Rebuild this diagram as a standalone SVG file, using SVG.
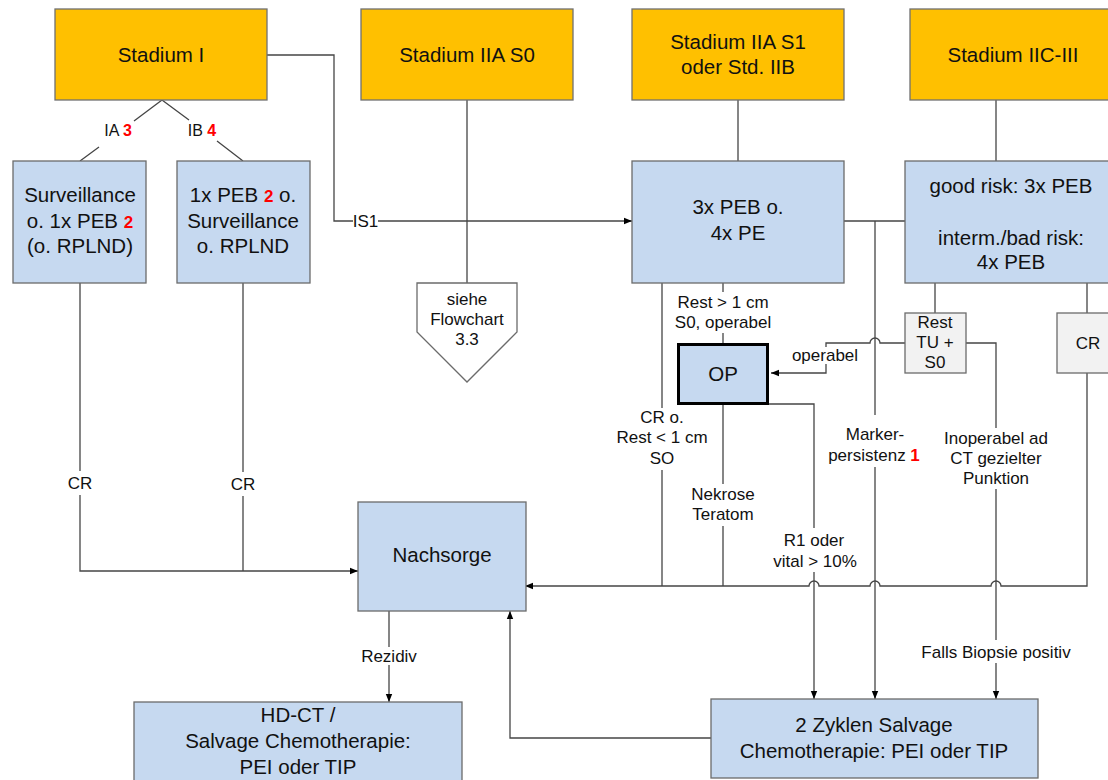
<svg xmlns="http://www.w3.org/2000/svg" width="1108" height="780" viewBox="0 0 1108 780">
<defs>
<marker id="ah" viewBox="0 0 10 10" refX="10" refY="5" markerWidth="8" markerHeight="8" markerUnits="userSpaceOnUse" orient="auto">
<path d="M0,1 L10,5 L0,9 z" fill="#000"/>
</marker>
<style>
.orange{fill:#ffc000;stroke:#707070;stroke-width:1.3}
.blue{fill:#c6d9f0;stroke:#6b6b6b;stroke-width:1.3}
.gray{fill:#f2f2f2;stroke:#6b6b6b;stroke-width:1.3}
.op{fill:#c6d9f0;stroke:#000;stroke-width:3}
.pent{fill:#fff;stroke:#6b6b6b;stroke-width:1.3}
.c{fill:none;stroke:#454545;stroke-width:1.3}
.a{marker-end:url(#ah)}
.bg{fill:#fff}
text{font-family:"Liberation Sans",Arial,sans-serif;fill:#111;text-anchor:middle}
.n{font-size:20.5px}
.s{font-size:17px}
.x{font-size:16px}
.r{fill:#ff0000;font-weight:bold}
.rs{font-size:17px}
</style>
</defs>
<rect width="1108" height="780" fill="#fff"/>

<g id="connectors">
<path class="c" d="M162,100 L134,121 M99,147 L80,161"/>
<path class="c" d="M162,100 L189,120 M217,141 L243,161"/>
<path class="c a" d="M267,55 H334 V221 H632"/>
<path class="c" d="M467,100 V283"/>
<path class="c a" d="M80,283 V571 H358"/>
<path class="c" d="M243,283 V571"/>
<path class="c" d="M738,100 V161"/>
<path class="c" d="M996,100 V161"/>
<path class="c" d="M844,221 H905"/>
<path class="c a" d="M875,221 V699"/>
<path class="c" d="M723,283 V343"/>
<path class="c" d="M662,283 V586"/>
<path class="c" d="M723,405 V586"/>
<path class="c a" d="M769,404 H814 V699"/>
<path class="c" d="M935,283 V313"/>
<path class="c" d="M1087,283 V313"/>
<path class="c a" d="M905,343 H880 a5,5 0 0 0 -10,0 H826 V373 H771"/>
<path class="c a" d="M966,343 H996 V699"/>
<path class="c a" d="M1087,373 V586 H1001 a5,5 0 0 0 -10,0 H880 a5,5 0 0 0 -10,0 H819 a5,5 0 0 0 -10,0 H525"/>
<path class="c a" d="M389,611 V702"/>
<path class="c a" d="M711,738 H510 V611"/>

<rect class="bg" x="353" y="212" width="25" height="18"/>
<rect class="bg" x="66" y="471" width="28" height="24"/>
<rect class="bg" x="229" y="472" width="28" height="24"/>
<rect class="bg" x="675" y="292" width="97" height="41"/>
<rect class="bg" x="615" y="408" width="94" height="62"/>
<rect class="bg" x="688" y="484" width="70" height="42"/>
<rect class="bg" x="772" y="528" width="87" height="44"/>
<rect class="bg" x="827" y="415" width="98" height="52"/>
<rect class="bg" x="942" y="428" width="108" height="61"/>
<rect class="bg" x="920" y="640" width="153" height="23"/>
<rect class="bg" x="361" y="647" width="56" height="18"/>
<rect class="bg" x="792" y="347" width="67" height="17"/>

<text class="x" x="118" y="136">IA <tspan class="r">3</tspan></text>
<text class="x" x="202" y="136">IB <tspan class="r">4</tspan></text>
<text class="s" x="365.5" y="227">IS1</text>
<text class="s" x="80" y="489">CR</text>
<text class="s" x="243" y="490">CR</text>
<text class="s" x="723" y="308">Rest &gt; 1 cm</text>
<text class="s" x="723" y="328">S0, operabel</text>
<text class="s" x="825" y="361">operabel</text>
<text class="s" x="662" y="423">CR o.</text>
<text class="s" x="662" y="443">Rest &lt; 1 cm</text>
<text class="s" x="662" y="464">SO</text>
<text class="s" x="723" y="500">Nekrose</text>
<text class="s" x="723" y="520">Teratom</text>
<text class="s" x="814" y="546">R1 oder</text>
<text class="s" x="815" y="567">vital &gt; 10%</text>
<text class="s" x="875" y="440">Marker-</text>
<text class="s" x="874" y="461">persistenz <tspan class="r">1</tspan></text>
<text class="s" x="996" y="444">Inoperabel ad</text>
<text class="s" x="996" y="464">CT gezielter</text>
<text class="s" x="996" y="484">Punktion</text>
<text class="s" x="996" y="658">Falls Biopsie positiv</text>
<text class="s" x="389" y="662">Rezidiv</text>
</g>

<g id="stadium-i">
<rect class="orange" x="55" y="9" width="212" height="91"/>
<text class="n" x="161" y="62">Stadium I</text>
</g>
<g id="stadium-iia-s0">
<rect class="orange" x="361" y="9" width="212" height="91"/>
<text class="n" x="467" y="62">Stadium IIA S0</text>
</g>
<g id="stadium-iia-s1">
<rect class="orange" x="632" y="9" width="212" height="91"/>
<text class="n" x="738" y="49">Stadium IIA S1</text>
<text class="n" x="738" y="74">oder Std. IIB</text>
</g>
<g id="stadium-iic-iii">
<rect class="orange" x="910" y="9" width="212" height="91"/>
<text class="n" x="1013" y="62">Stadium IIC-III</text>
</g>
<g id="surveillance">
<rect class="blue" x="13" y="161" width="133" height="122"/>
<text class="n" x="80" y="202">Surveillance</text>
<text class="n" x="80" y="228">o. 1x PEB <tspan class="r rs">2</tspan></text>
<text class="n" x="80" y="253">(o. RPLND)</text>
</g>
<g id="peb-1x">
<rect class="blue" x="177" y="161" width="133" height="122"/>
<text class="n" x="243" y="202">1x PEB <tspan class="r rs">2</tspan> o.</text>
<text class="n" x="243" y="228">Surveillance</text>
<text class="n" x="243" y="253">o. RPLND</text>
</g>
<g id="flowchart-ref">
<path class="pent" d="M417,283 H517 V332 L467,382 L417,332 Z"/>
<text class="s" x="467" y="305">siehe</text>
<text class="s" x="467" y="325">Flowchart</text>
<text class="s" x="467" y="345">3.3</text>
</g>
<g id="peb-3x">
<rect class="blue" x="632" y="161" width="212" height="122"/>
<text class="n" x="738" y="214">3x PEB o.</text>
<text class="n" x="738" y="240">4x PE</text>
</g>
<g id="risk">
<rect class="blue" x="905" y="161" width="212" height="122"/>
<text class="n" x="1011" y="193">good risk: 3x PEB</text>
<text class="n" x="1011" y="245">interm./bad risk:</text>
<text class="n" x="1011" y="269">4x PEB</text>
</g>
<g id="rest-tu">
<rect class="gray" x="905" y="313" width="61" height="60"/>
<text class="s" x="935" y="328">Rest</text>
<text class="s" x="935" y="348">TU +</text>
<text class="s" x="935" y="368">S0</text>
</g>
<g id="cr">
<rect class="gray" x="1057" y="313" width="61" height="60"/>
<text class="s" x="1088" y="349">CR</text>
</g>
<g id="op">
<rect class="op" x="678.5" y="344.5" width="89" height="59"/>
<text class="n" x="723" y="381">OP</text>
</g>
<g id="nachsorge">
<rect class="blue" x="358" y="502" width="168" height="109"/>
<text class="n" x="442" y="562">Nachsorge</text>
</g>
<g id="hdct">
<rect class="blue" x="134" y="702" width="328" height="90"/>
<text class="n" x="298" y="722">HD-CT /</text>
<text class="n" x="298" y="748">Salvage Chemotherapie:</text>
<text class="n" x="298" y="774">PEI oder TIP</text>
</g>
<g id="salvage">
<rect class="blue" x="711" y="699" width="327" height="79"/>
<text class="n" x="874" y="732">2 Zyklen Salvage</text>
<text class="n" x="874" y="758">Chemotherapie: PEI oder TIP</text>
</g>
</svg>
